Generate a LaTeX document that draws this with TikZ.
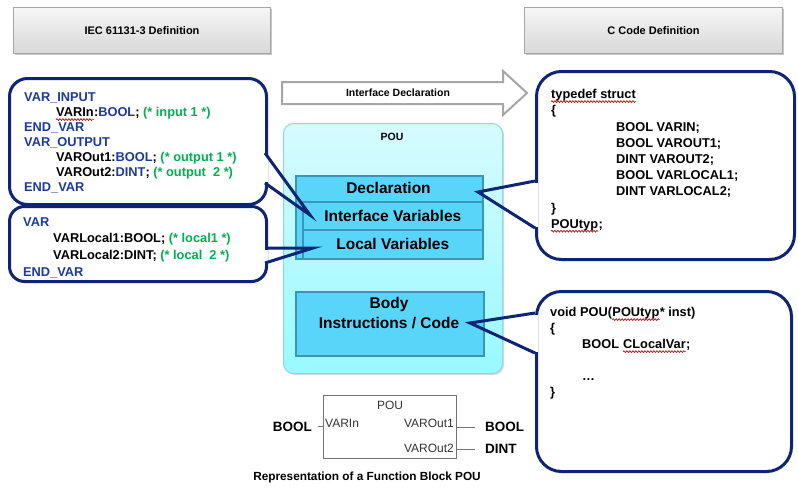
\documentclass[tikz,border=0pt]{standalone}
\usepackage{fontspec}
\setmainfont{Liberation Sans}
\usetikzlibrary{calc,decorations.pathmorphing}
\definecolor{navy}{RGB}{14,36,116}
\definecolor{kwblue}{RGB}{28,58,156}
\definecolor{cmtgreen}{RGB}{0,176,80}
\definecolor{hdrborder}{RGB}{166,166,166}
\definecolor{hdrtop}{RGB}{246,246,246}
\definecolor{hdrbot}{RGB}{216,216,216}
\definecolor{declfill}{RGB}{90,213,250}
\definecolor{declborder}{RGB}{58,150,185}
\definecolor{poutop}{RGB}{214,251,255}
\definecolor{poubot}{RGB}{152,250,255}
\definecolor{pouborder}{RGB}{140,215,240}
\newcommand{\kw}[1]{\textcolor{kwblue}{#1}}
\newcommand{\cm}[1]{\textcolor{cmtgreen}{#1}}
\tikzset{
  hdr/.style={draw=hdrborder, line width=1, top color=hdrtop, bottom color=hdrbot,
    anchor=north west, inner sep=0, font=\bfseries\fontsize{11}{13}\selectfont},
  callout/.style={draw=navy, line width=3, fill=white, rounded corners=#1,
    anchor=north west, inner sep=0},
  tail/.style={draw=navy, line width=3, line join=miter},
  code/.style={anchor=base west, inner sep=0, font=\bfseries\fontsize{12.8}{15}\selectfont},
  declbox/.style={draw=declborder, line width=1.5, fill=declfill, anchor=north west,
    inner sep=0, font=\bfseries\fontsize{15.5}{18}\selectfont},
  bigtxt/.style={inner sep=0, font=\bfseries\fontsize{15.5}{18}\selectfont},
  fbtxt/.style={inner sep=0, text=black!80, font=\fontsize{12}{14}\selectfont},
  typetxt/.style={inner sep=0, font=\bfseries\fontsize{13.5}{16}\selectfont},
  fbline/.style={draw=black!55, line width=1},
  spell/.style={draw=red!85!black, line width=0.7, decorate,
    decoration={snake, amplitude=0.9pt, segment length=3pt}}
}
\newcommand{\waveunder}[1]{\draw[spell] ($(#1.base west)+(0,3)$) -- ($(#1.base east)+(0,3)$);}
\begin{document}
\begin{tikzpicture}[x=1pt,y=-1pt]
\useasboundingbox (0,0) rectangle (798,496);

% headers
\fill[black!22] (14.5,8.5) rectangle (271.5,54.5);
\node[hdr, minimum width=257, minimum height=46] (h1) at (13,7) {IEC 61131-3 Definition};
\fill[black!22] (525.5,8.5) rectangle (783.5,54.5);
\node[hdr, minimum width=258, minimum height=46] (h2) at (524,7) {C Code Definition};

% interface declaration arrow
\draw[draw=hdrborder, line width=2, fill=white, line join=miter]
  (282,82) -- (503,82) -- (503,71) -- (527,93) -- (503,115) -- (503,104) -- (282,104) -- cycle;
\node[inner sep=0, font=\bfseries\fontsize{10.5}{12}\selectfont] (ifdecl) at (398,93) {Interface Declaration};

% callout bodies
\node[callout=18, minimum width=257, minimum height=126] (cb1) at (8,77) {};
\node[callout=15, minimum width=257, minimum height=75] (cb2) at (8,205) {};
\node[callout=25, minimum width=258, minimum height=188] (cb3) at (535,70) {};
\node[callout=25, minimum width=255, minimum height=180] (cb4) at (535,290) {};

\coordinate (t1a) at (265,153); \coordinate (t1tip) at (310,215); \coordinate (t1b) at (265,183);
\coordinate (t2a) at (265,248); \coordinate (t2tip) at (313,248); \coordinate (t2b) at (265,263);
\coordinate (t3a) at (535,181); \coordinate (t3tip) at (478,192); \coordinate (t3b) at (535,228);
\coordinate (t4a) at (535,313); \coordinate (t4tip) at (470,323); \coordinate (t4b) at (535,353);

\fill[white] (262,154.5) rectangle (268,181.5);
\fill[white] (262,249.5) rectangle (268,261.5);
\fill[white] (532,182.5) rectangle (538,226.5);
\fill[white] (532,314.5) rectangle (538,351.5);

% POU container
\fill[black!15, rounded corners=10] (285,125) rectangle (504,375);
\node[draw=pouborder, line width=1, top color=poutop, bottom color=poubot, rounded corners=10,
  minimum width=219, minimum height=250, anchor=north west, inner sep=0] (pou) at (283,123) {};
\node[inner sep=0, font=\bfseries\fontsize{10.5}{12}\selectfont] (poulbl) at (392,137) {POU};

\node[declbox, minimum width=187, minimum height=83] (declgrp) at (295,175) {};
\node[bigtxt] (decltxt) at (388.5,188) {Declaration};
\node[declbox, minimum width=180, minimum height=28] (ifvar) at (302,201) {Interface Variables};
\node[declbox, minimum width=180, minimum height=29] (locvar) at (302,229) {Local Variables};

\node[declbox, minimum width=188, minimum height=64] (body) at (295,291) {};
\node[bigtxt] (bodyt1) at (389,304) {Body};
\node[bigtxt] (bodyt2) at (389,323) {Instructions / Code};

% tails
\draw[tail] (t1a) -- (t1tip) -- (t1b);
\draw[tail] (t2a) -- (t2tip) -- (t2b);
\draw[tail] (t3a) -- (t3tip) -- (t3b);
\draw[tail] (t4a) -- (t4tip) -- (t4b);

% callout 1 text
\node[code] (c1a) at (24,101.6) {\kw{VAR\_INPUT}};
\node[code] (c1bw) at (56,116.6) {VARIn};
\node[code] (c1b) at (c1bw.base east) {:\kw{BOOL}; \cm{(* input 1 *)}};
\node[code] (c1c) at (24,131.6) {\kw{END\_VAR}};
\node[code] (c1d) at (24,146.6) {\kw{VAR\_OUTPUT}};
\node[code] (c1e) at (56,161.6) {VAROut1:\kw{BOOL}; \cm{(* output 1 *)}};
\node[code] (c1f) at (56,176.6) {VAROut2:\kw{DINT}; \cm{(* output\ \ 2 *)}};
\node[code] (c1g) at (24,191.6) {\kw{END\_VAR}};

% callout 2 text
\node[code] (c2a) at (23,226.6) {\kw{VAR}};
\node[code] (c2b) at (53,242.6) {VARLocal1:BOOL; \cm{(* local1 *)}};
\node[code] (c2c) at (53,259.6) {VARLocal2:DINT; \cm{(* local\ \ 2 *)}};
\node[code] (c2d) at (23,276.6) {\kw{END\_VAR}};

% callout 3 text
\node[code] (c3a) at (551,98.6) {typedef struct};
\node[code] (c3b) at (551,114.8) {\{};
\node[code] (c3c) at (616,131) {BOOL VARIN;};
\node[code] (c3d) at (616,147.2) {BOOL VAROUT1;};
\node[code] (c3e) at (616,163.4) {DINT VAROUT2;};
\node[code] (c3f) at (616,179.6) {BOOL VARLOCAL1;};
\node[code] (c3g) at (616,195.8) {DINT VARLOCAL2;};
\node[code] (c3h) at (551,212) {\}};
\node[code] (c3iw) at (551,228.2) {POUtyp};
\node[code] (c3i) at (c3iw.base east) {;};

% callout 4 text
\node[code] (c4a) at (550,316.6) {void POU(};
\node[code] (c4aw) at (c4a.base east) {POUtyp};
\node[code] (c4ar) at (c4aw.base east) {* inst)};
\node[code] (c4b) at (550,332.6) {\{};
\node[code] (c4c) at (582,348.6) {BOOL};
\node[code] (c4cw) at ($(c4c.base east)+(3.6,0)$) {CLocalVar};
\node[code] (c4cr) at (c4cw.base east) {;};
\node[code] (c4d) at (582,380.6) {…};
\node[code] (c4e) at (550,396.6) {\}};

\waveunder{c1bw}
\waveunder{c3a}
\waveunder{c3iw}
\waveunder{c4aw}
\waveunder{c4cw}

% function block representation
\node[draw=black!55, line width=1, minimum width=133, minimum height=63, anchor=north west, inner sep=0] (fb) at (323,395) {};
\node[fbtxt] (fbname) at (390,405) {POU};
\node[fbtxt, anchor=west] (fbin) at (325,423) {VARIn};
\node[fbtxt, anchor=east] (fbo1) at (454,423) {VAROut1};
\node[fbtxt, anchor=east] (fbo2) at (454,448) {VAROut2};
\coordinate (instub) at (318,426);
\coordinate (o1end) at (475,427);
\coordinate (o2end) at (475,449);
\draw[fbline] (instub) -- (fb.west |- instub);
\draw[fbline] (fb.east |- o1end) -- (o1end);
\draw[fbline] (fb.east |- o2end) -- (o2end);
\node[typetxt, anchor=east] (lbool) at (312,427) {BOOL};
\node[typetxt, anchor=west] (rbool) at (485,427) {BOOL};
\node[typetxt, anchor=west] (rdint) at (485,449) {DINT};
\node[inner sep=0, font=\bfseries\fontsize{11.8}{14}\selectfont] (caption) at (367,477) {Representation of a Function Block POU};
\end{tikzpicture}
\end{document}
